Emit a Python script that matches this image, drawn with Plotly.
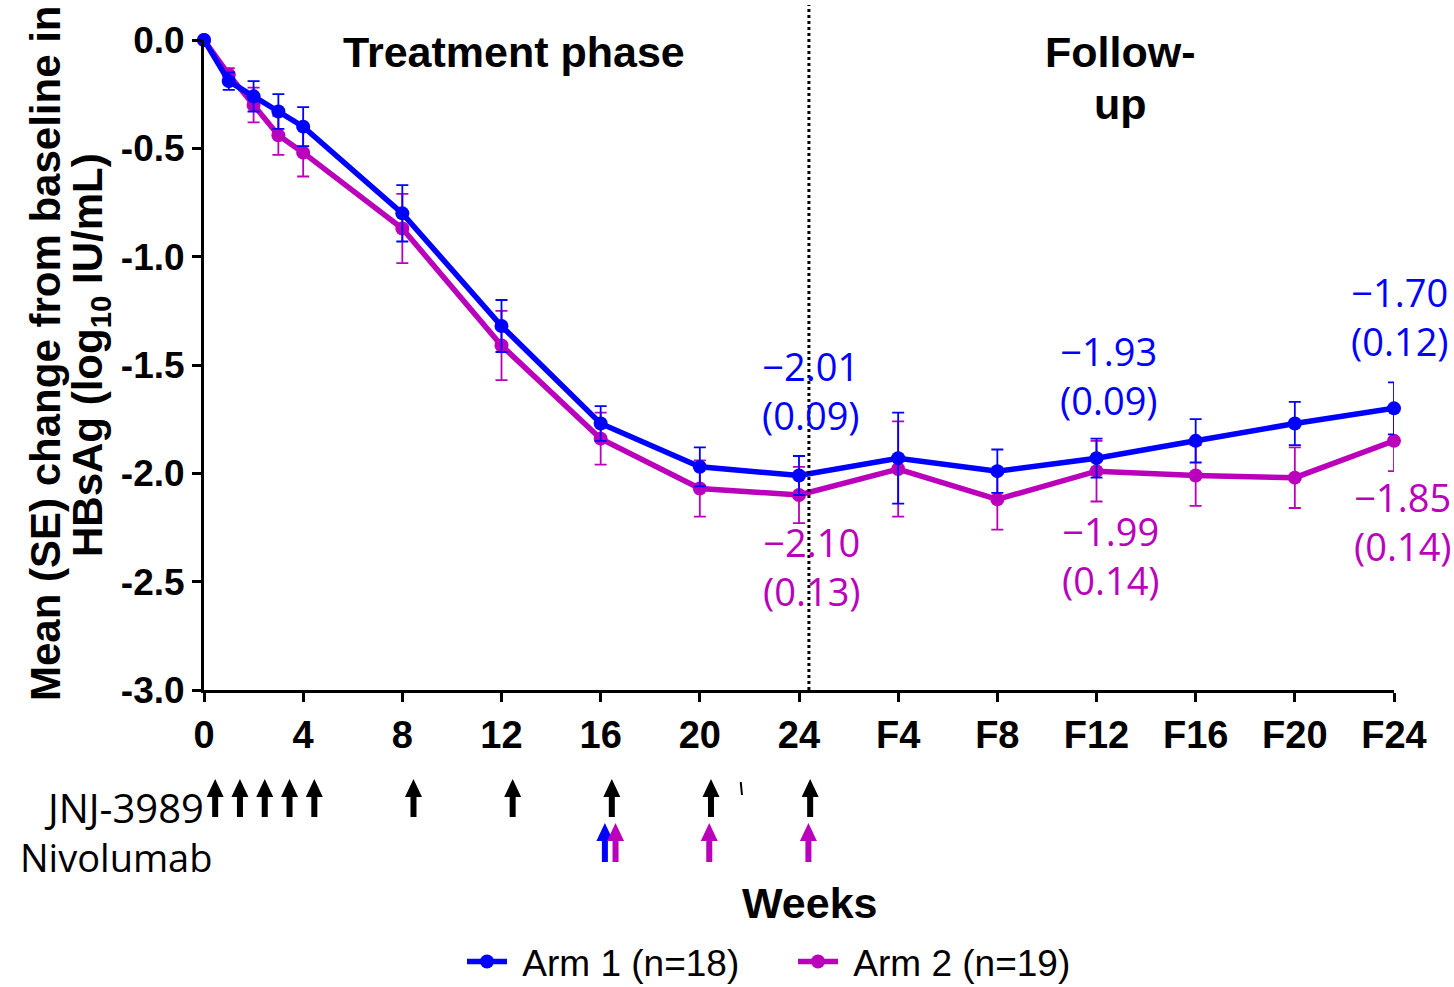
import plotly.graph_objects as go

# Visit labels and their position on the time axis (follow-up visits continue after week 24)
visits = ["0", "1", "2", "3", "4", "8", "12", "16", "20", "24",
          "F4", "F8", "F12", "F16", "F20", "F24"]

arm1_mean = [0.00, -0.19, -0.26, -0.33, -0.40, -0.80, -1.32, -1.77, -1.97, -2.01,
             -1.93, -1.99, -1.93, -1.85, -1.77, -1.70]
arm1_se = [0.00, 0.04, 0.07, 0.08, 0.09, 0.13, 0.12, 0.08, 0.09, 0.09,
           0.21, 0.10, 0.09, 0.10, 0.10, 0.12]

arm2_mean = [0.00, -0.16, -0.30, -0.44, -0.52, -0.87, -1.41, -1.84, -2.07, -2.10,
             -1.98, -2.12, -1.99, -2.01, -2.02, -1.85]
arm2_se = [0.00, 0.03, 0.08, 0.09, 0.11, 0.16, 0.16, 0.12, 0.13, 0.13,
           0.22, 0.14, 0.14, 0.14, 0.14, 0.14]

tick_labels = ["0", "4", "8", "12", "16", "20", "24",
               "F4", "F8", "F12", "F16", "F20", "F24"]
y_ticks = [0.0, -0.5, -1.0, -1.5, -2.0, -2.5, -3.0]

# Dosing schedule (weeks)
jnj_weeks = [0, 1, 2, 3, 4, 8, 12, 16, 20, 24]
nivo_arm1_weeks = [16]
nivo_arm2_weeks = [16, 20, 24]

# Visits whose values are printed next to the curves
labelled_visits = ["24", "F12", "F24"]

BLUE = "#0000FF"
MAGENTA = "#BB00BB"

# pixel geometry of the plot area
W, H = 1454, 987
L, R, T, B = 204, 60, 40, 297
PW, PH = W - L - R, H - T - B
X_MAX = 48
PX_PER_WEEK = PW / X_MAX


def visit_pos(v):
    return 24 + int(v[1:]) if v.startswith("F") else int(v)


def py2paper(py):
    return (H - B - py) / PH


def px2paper(px):
    return (px - L) / PW


def px2data(px):
    return px / PX_PER_WEEK


x = [visit_pos(v) for v in visits]

fig = go.Figure()

for name, mean, se, color in [("Arm 2 (n=19)", arm2_mean, arm2_se, MAGENTA),
                              ("Arm 1 (n=18)", arm1_mean, arm1_se, BLUE)]:
    fig.add_trace(go.Scatter(
        x=x, y=mean, name="\u00a0" + name, mode="lines+markers",
        line=dict(color=color, width=5.5),
        marker=dict(color=color, size=14),
        error_y=dict(type="data", array=se, visible=True, color=color,
                     thickness=1.8, width=6),
        cliponaxis=False,
    ))

shapes = []

# end of treatment marker
shapes.append(dict(type="line", xref="x", yref="paper", x0=24.4, x1=24.4,
                   y0=0, y1=py2paper(5), line=dict(color="black", width=3, dash="dot")))


def arrow(cx, py_top, py_base, py_bot, color):
    hw, sw = px2data(8.5), px2data(3)
    yt, yb, ye = py2paper(py_top), py2paper(py_base), py2paper(py_bot)
    path = (f"M {cx},{yt} L {cx + hw},{yb} L {cx + sw},{yb} L {cx + sw},{ye} "
            f"L {cx - sw},{ye} L {cx - sw},{yb} L {cx - hw},{yb} Z")
    return dict(type="path", xref="x", yref="paper", path=path,
                fillcolor=color, line=dict(width=0))


for wk in jnj_weeks:
    shapes.append(arrow(wk + 0.45, 779, 797, 817, "black"))
for wk in nivo_arm1_weeks:
    shapes.append(arrow(wk + 0.17, 823, 841, 862, BLUE))
for wk in nivo_arm2_weeks:
    off = 0.6 if wk in nivo_arm1_weeks else 0.38
    shapes.append(arrow(wk + off, 823, 841, 862, MAGENTA))

# small stray tick beside the week-20 dose
shapes.append(dict(type="line", xref="x", yref="paper", x0=21.65, x1=21.7,
                   y0=py2paper(782), y1=py2paper(795), line=dict(color="black", width=2)))

annotations = []
label_font = dict(family="Open Sans", size=38)


def fmt(v):
    return f"{v:.2f}".replace("-", "\u2212")


offsets = {  # (xshift, yshift) per visit for arm 1 above / arm 2 below
    "24": ((12, 85), (13, -71)),
    "F12": ((12, 83), (14, -84)),
    "F24": ((6, 92), (9, -81)),
}
for v in labelled_visits:
    i = visits.index(v)
    (x1s, y1s), (x2s, y2s) = offsets[v]
    annotations.append(dict(x=x[i], y=arm1_mean[i], xref="x", yref="y",
                            xanchor="center", yanchor="middle",
                            text=f"{fmt(arm1_mean[i])}<br>({arm1_se[i]:.2f})",
                            showarrow=False, xshift=x1s, yshift=y1s,
                            font=dict(label_font, color=BLUE)))
    annotations.append(dict(x=x[i], y=arm2_mean[i], xref="x", yref="y",
                            xanchor="center", yanchor="middle",
                            text=f"{fmt(arm2_mean[i])}<br>({arm2_se[i]:.2f})",
                            showarrow=False, xshift=x2s, yshift=y2s,
                            font=dict(label_font, color=MAGENTA)))

bold = dict(family="Liberation Sans", color="black")
side_font = dict(family="Open Sans", size=38, color="black")


def note(px, py, text, font, xanchor="center", angle=0):
    return dict(x=px2paper(px), y=py2paper(py), xref="paper", yref="paper",
                xanchor=xanchor, yanchor="middle", text=text, textangle=angle,
                showarrow=False, font=font)


annotations += [
    note(514, 52, "<b>Treatment phase</b>", dict(bold, size=43)),
    note(1120, 52, "<b>Follow-</b>", dict(bold, size=43)),
    note(1120, 104, "<b>up</b>", dict(bold, size=43)),
    note(809, 903, "<b>Weeks</b>", dict(bold, size=43)),
    note(45, 354, "<b>Mean (SE) change from baseline in</b>", dict(bold, size=42), angle=-90),
    note(90, 355, "<b>HBsAg (log<sub>10</sub> IU/mL)</b>", dict(bold, size=42), angle=-90),
    note(206, 808, "JNJ-3989", dict(side_font, size=40), xanchor="right"),
    note(18, 857, "Nivolumab", side_font, xanchor="left"),
]

fig.update_layout(
    width=W, height=H,
    margin=dict(l=L, r=R, t=T, b=B, autoexpand=False),
    plot_bgcolor="white", paper_bgcolor="white",
    shapes=shapes, annotations=annotations,
    showlegend=True,
    legend=dict(orientation="h", traceorder="reversed",
                x=px2paper(462), xanchor="left",
                y=py2paper(962), yanchor="middle",
                font=dict(family="Liberation Sans", size=37, color="black"),
                itemwidth=40, entrywidth=276),
    xaxis=dict(range=[0, X_MAX], tickvals=[visit_pos(t) for t in tick_labels],
               ticktext=[f"<b>{t}</b>" for t in tick_labels],
               showline=True, linecolor="black", linewidth=3,
               ticks="outside", ticklen=9, tickwidth=3, tickcolor="black",
               showgrid=False, zeroline=False,
               tickfont=dict(family="Liberation Sans", size=38, color="black")),
    yaxis=dict(range=[-3, 0], tickvals=y_ticks,
               ticktext=[f"<b>{v:.1f}</b>" for v in y_ticks],
               showline=True, linecolor="black", linewidth=3,
               ticks="outside", ticklen=9, tickwidth=3, tickcolor="black",
               showgrid=False, zeroline=False,
               tickfont=dict(family="Liberation Sans", size=37, color="black")),
)

fig.write_html("out.html")
